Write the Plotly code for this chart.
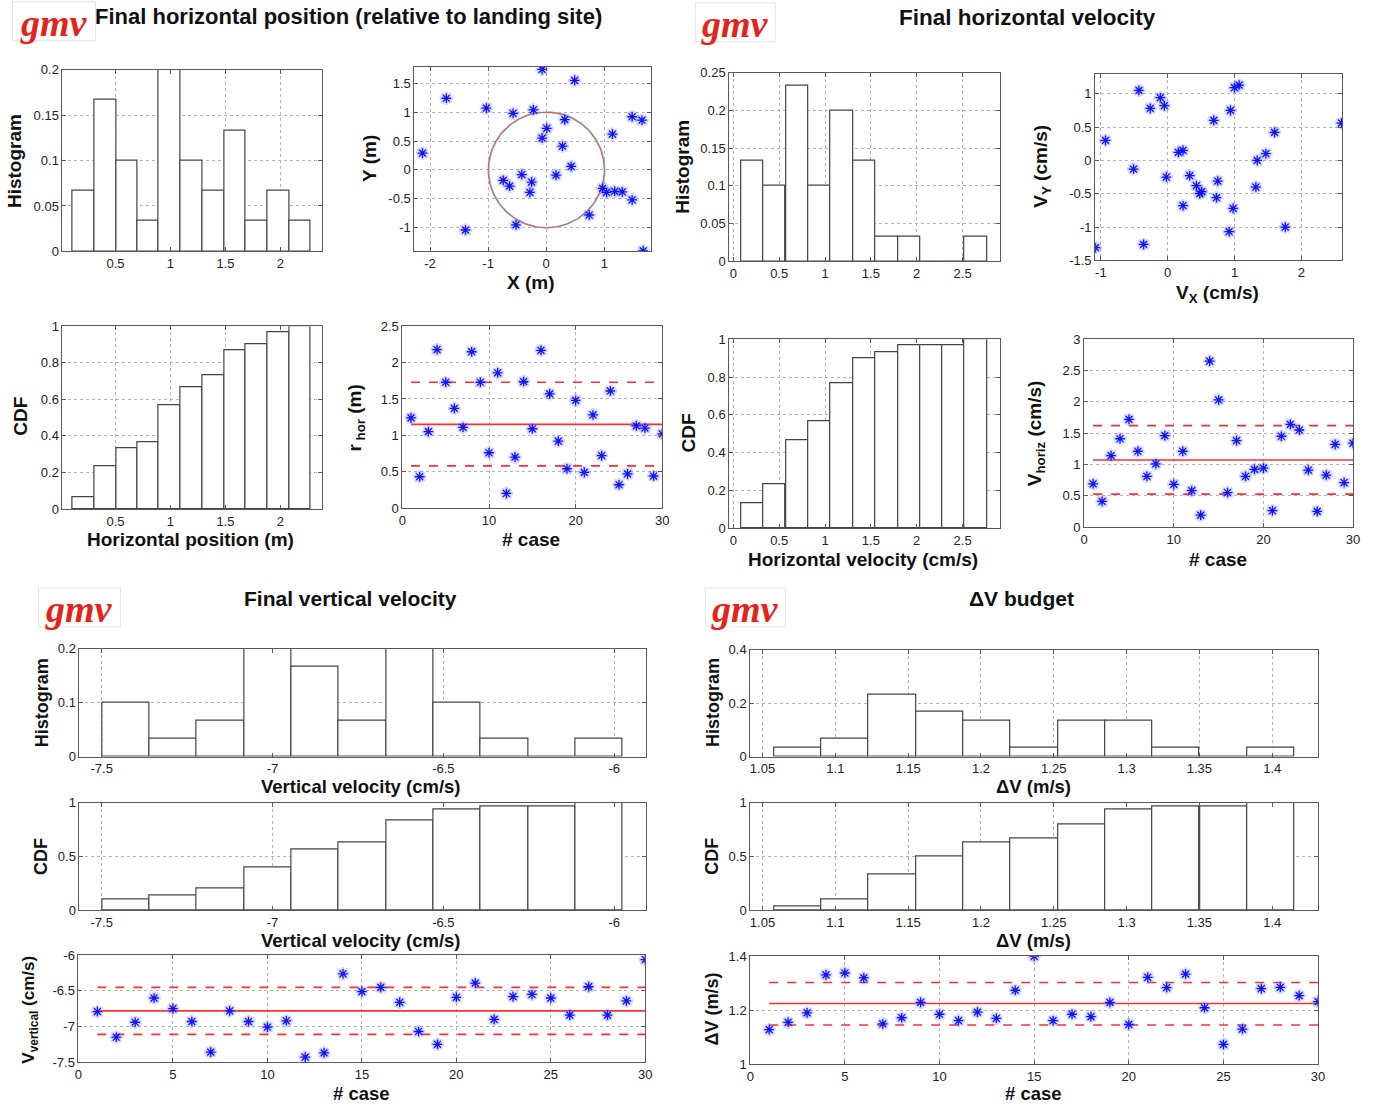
import numpy as np
import plotly.graph_objects as go

W, H = 1373, 1105

# ---------------- data ----------------
cases = list(range(1, 31))

# Final horizontal position
pos_bin_centers = [0.209, 0.407, 0.603, 0.795, 0.991, 1.191, 1.391, 1.586, 1.782, 1.982, 2.177]
pos_hist = [0.0667, 0.1667, 0.1, 0.0333, 0.2, 0.1, 0.0667, 0.1333, 0.0333, 0.0667, 0.0333]
pos_cdf = [0.0667, 0.2333, 0.3333, 0.3667, 0.5667, 0.6667, 0.7333, 0.8667, 0.9, 0.9667, 1.0]

pos_x = [-0.07, 0.49, -1.72, -1.03, -0.57, -0.22, 0.32, 0.01, -0.07, 0.28, -2.13, 0.43, -0.42, 0.17, -0.74,
         -0.63, -0.25, -0.28, -0.52, -1.39, 0.74, 0.97, 1.04, 1.18, 1.31, 1.48, 1.14, 1.48, 1.65, 1.67]
pos_y = [1.74, 1.55, 1.24, 1.07, 0.98, 1.04, 0.87, 0.72, 0.55, 0.41, 0.29, 0.06, -0.08, -0.09, -0.18,
         -0.28, -0.21, -0.39, -0.95, -1.04, -0.78, -0.32, -0.39, -0.37, -0.38, -0.52, 0.62, 0.92, 0.86, -1.40]
landing_radius = 1.0

r_hor = [1.24, 0.43, 1.05, 2.18, 1.73, 1.37, 1.11, 2.15, 1.73, 0.76, 1.86, 0.20, 0.70, 1.74, 1.09,
         2.17, 1.57, 0.92, 0.54, 1.48, 0.49, 1.28, 0.72, 1.61, 0.32, 0.47, 1.13, 1.10, 0.44, 1.02]
r_hor_mean, r_hor_upper, r_hor_lower = 1.15, 1.73, 0.58

# Final horizontal velocity
vel_bin_centers = [0.205, 0.450, 0.694, 0.939, 1.183, 1.428, 1.672, 1.917, 2.161, 2.405, 2.643]
vel_hist = [0.1333, 0.1, 0.2333, 0.1, 0.2, 0.1333, 0.0333, 0.0333, 0.0, 0.0, 0.0333]
vel_cdf = [0.1333, 0.2333, 0.4667, 0.5667, 0.7667, 0.9, 0.9333, 0.9667, 0.9667, 0.9667, 1.0]

vx = [-1.08, -0.93, -0.43, -0.26, -0.11, -0.05, -0.51, -0.36, -0.02, 0.16, 0.23, 0.33, 0.43, 0.48, 0.51,
      0.23, 0.69, 0.75, 0.73, 0.94, 1.00, 1.07, 0.98, 0.92, 1.32, 1.34, 1.47, 1.60, 1.76, 2.60]
vy = [-1.31, 0.30, 1.05, 0.78, 0.94, 0.82, -0.13, -1.26, -0.25, 0.12, 0.15, -0.23, -0.38, -0.50, -0.47,
      -0.68, 0.60, -0.31, -0.56, 0.75, 1.09, 1.13, -0.72, -1.07, -0.40, 0.00, 0.10, 0.42, -1.00, 0.56]

v_horiz = [0.69, 0.41, 1.14, 1.41, 1.72, 1.21, 0.81, 1.01, 1.46, 0.68, 1.21, 0.58, 0.19, 2.65, 2.03,
           0.55, 1.38, 0.81, 0.92, 0.94, 0.26, 1.45, 1.64, 1.55, 0.91, 0.25, 0.83, 1.32, 0.71, 1.34]
v_horiz_mean, v_horiz_upper, v_horiz_lower = 1.07, 1.62, 0.525

# Final vertical velocity
vv_bin_centers = [-7.429, -7.290, -7.152, -7.013, -6.875, -6.737, -6.598, -6.460, -6.321, -6.183, -6.044]
vv_hist = [0.1, 0.0333, 0.0667, 0.2, 0.1667, 0.0667, 0.2, 0.1, 0.0333, 0.0, 0.0333]
vv_cdf = [0.1, 0.1333, 0.2, 0.4, 0.5667, 0.6333, 0.8333, 0.9333, 0.9667, 0.9667, 1.0]

v_vert = [-6.79, -7.15, -6.94, -6.60, -6.75, -6.93, -7.36, -6.78, -6.93, -7.01, -6.92, -7.43, -7.37, -6.26, -6.51,
          -6.45, -6.66, -7.07, -7.25, -6.59, -6.39, -6.90, -6.58, -6.55, -6.60, -6.84, -6.44, -6.84, -6.64, -6.06]
v_vert_mean, v_vert_upper, v_vert_lower = -6.78, -6.45, -7.11

# Delta-V budget
dv_bin_centers = [1.0742, 1.1067, 1.1391, 1.1716, 1.2041, 1.2366, 1.2690, 1.3015, 1.3340, 1.3665, 1.3989]
dv_hist = [0.0333, 0.0667, 0.2333, 0.1667, 0.1333, 0.0333, 0.1333, 0.1333, 0.0333, 0.0, 0.0333]
dv_cdf = [0.0333, 0.1, 0.3333, 0.5, 0.6333, 0.6667, 0.8, 0.9333, 0.9667, 0.9667, 1.0]

dv = [1.128, 1.155, 1.19, 1.331, 1.338, 1.32, 1.149, 1.172, 1.229, 1.185, 1.161, 1.193, 1.170, 1.274, 1.40,
      1.161, 1.185, 1.176, 1.229, 1.147, 1.322, 1.284, 1.334, 1.209, 1.073, 1.13, 1.28, 1.285, 1.254, 1.232]
dv_mean, dv_upper, dv_lower = 1.225, 1.303, 1.145

# ---------------- helpers ----------------
FONT = "Liberation Sans, Arial, sans-serif"
NARROW = "Liberation Sans Narrow, Liberation Sans, Arial, sans-serif"
fig = go.Figure()
layout = {}
annotations = []
shapes = []

# screen-position correction (page is rendered slightly scaled)
AX, BX = 3.5, 0.9923
AY, BY = 6.2, 0.988


def px_x(p):
    return ((p - AX) / BX) / W


def px_y(p):
    return 1 - ((p - AY) / BY) / H


def fmt(v):
    return "%g" % v


def add_axes(n, box, xrange, xticks, yrange, yticks, font=FONT, size=13):
    x0, x1, y0, y1 = box
    common = dict(showgrid=True, gridcolor="#b4b4b4", griddash="dot", gridwidth=1,
                  showline=True, linecolor="#5a5a5a", linewidth=1, mirror="ticks",
                  ticks="inside", ticklen=4, tickcolor="#5a5a5a", zeroline=False,
                  tickfont=dict(family=font, size=size, color="#222"), fixedrange=True)
    layout["xaxis%d" % n] = dict(domain=[px_x(x0), px_x(x1)], range=xrange, anchor="y%d" % n,
                                 tickvals=xticks, ticktext=[fmt(t) for t in xticks], **common)
    layout["yaxis%d" % n] = dict(domain=[px_y(y1), px_y(y0)], range=yrange, anchor="x%d" % n,
                                 tickvals=yticks, ticktext=[fmt(t) for t in yticks], **common)


def add_bars(n, centers, heights):
    width = float(np.mean(np.diff(centers)))
    fig.add_trace(go.Bar(x=centers, y=heights, width=width, xaxis="x%d" % n, yaxis="y%d" % n,
                         marker=dict(color="white", line=dict(color="#444", width=1.2)),
                         showlegend=False, hoverinfo="skip"))


def add_stars(n, x, y):
    fig.add_trace(go.Scatter(x=x, y=y, mode="markers", xaxis="x%d" % n, yaxis="y%d" % n,
                             marker=dict(symbol="asterisk-open", size=11, color="rgba(90,110,255,0.30)",
                                         line=dict(width=3.4)),
                             showlegend=False, hoverinfo="skip"))
    fig.add_trace(go.Scatter(x=x, y=y, mode="markers", xaxis="x%d" % n, yaxis="y%d" % n,
                             marker=dict(symbol="asterisk-open", size=8, color="#1212ff", line=dict(width=1.3)),
                             showlegend=False, hoverinfo="skip"))


def add_stats(n, xs, mean, upper, lower):
    xe = [xs[0], xs[-1]]
    for val, dash in ((mean, "solid"), (upper, "dash"), (lower, "dash")):
        fig.add_trace(go.Scatter(x=xe, y=[val, val], mode="lines", xaxis="x%d" % n, yaxis="y%d" % n,
                                 line=dict(color="#ff3030", width=1.6, dash=dash),
                                 showlegend=False, hoverinfo="skip"))


def label(text, x, y, size=19, angle=0, font=FONT, color="#111", bold=True):
    annotations.append(dict(text=("<b>%s</b>" % text) if bold else text, x=px_x(x), y=px_y(y),
                            xref="paper", yref="paper", showarrow=False, textangle=angle,
                            xanchor="center", yanchor="middle",
                            font=dict(family=font, size=size, color=color)))


# ---------------- panels ----------------
add_axes(1, (62, 322, 69, 251), [0.018, 2.382], [0.5, 1, 1.5, 2], [0, 0.2], [0, 0.05, 0.1, 0.15, 0.2])
add_bars(1, pos_bin_centers, pos_hist)

add_axes(2, (414, 651, 66, 251), [-2.27, 1.81], [-2, -1, 0, 1], [-1.41, 1.786], [-1, -0.5, 0, 0.5, 1, 1.5])
t = np.linspace(0, 2 * np.pi, 200)
fig.add_trace(go.Scatter(x=landing_radius * np.cos(t) + 0.01, y=landing_radius * np.sin(t), mode="lines",
                         xaxis="x2", yaxis="y2", line=dict(color="#40e0e0", width=1.6),
                         showlegend=False, hoverinfo="skip"))
fig.add_trace(go.Scatter(x=landing_radius * np.cos(t), y=landing_radius * np.sin(t), mode="lines",
                         xaxis="x2", yaxis="y2", line=dict(color="#ff5050", width=1.1),
                         showlegend=False, hoverinfo="skip"))
add_stars(2, pos_x, pos_y)

add_axes(3, (729, 1000, 72, 261), [-0.044, 2.91], [0, 0.5, 1, 1.5, 2, 2.5], [0, 0.25],
         [0, 0.05, 0.1, 0.15, 0.2, 0.25])
add_bars(3, vel_bin_centers, vel_hist)

add_axes(4, (1095, 1342, 73, 260), [-1.085, 2.61], [-1, 0, 1, 2], [-1.5, 1.3], [-1.5, -1, -0.5, 0, 0.5, 1])
add_stars(4, vx, vy)

add_axes(5, (62, 322, 326, 509), [0.018, 2.382], [0.5, 1, 1.5, 2], [0, 1], [0, 0.2, 0.4, 0.6, 0.8, 1])
add_bars(5, pos_bin_centers, pos_cdf)

add_axes(6, (402, 662, 326, 508), [0, 30], [0, 10, 20, 30], [0, 2.5], [0, 0.5, 1, 1.5, 2, 2.5])
add_stats(6, cases, r_hor_mean, r_hor_upper, r_hor_lower)
add_stars(6, cases, r_hor)

add_axes(7, (729, 1000, 339, 528), [-0.044, 2.91], [0, 0.5, 1, 1.5, 2, 2.5], [0, 1], [0, 0.2, 0.4, 0.6, 0.8, 1])
add_bars(7, vel_bin_centers, vel_cdf)

add_axes(8, (1084, 1353, 339, 527), [0, 30], [0, 10, 20, 30], [0, 3], [0, 0.5, 1, 1.5, 2, 2.5, 3])
add_stats(8, cases, v_horiz_mean, v_horiz_upper, v_horiz_lower)
add_stars(8, cases, v_horiz)

add_axes(9, (79, 646, 649, 757), [-7.565, -5.906], [-7.5, -7, -6.5, -6], [0, 0.2], [0, 0.1, 0.2], NARROW, 13)
add_bars(9, vv_bin_centers, vv_hist)

add_axes(10, (79, 646, 803, 911), [-7.565, -5.906], [-7.5, -7, -6.5, -6], [0, 1], [0, 0.5, 1], NARROW, 13)
add_bars(10, vv_bin_centers, vv_cdf)

add_axes(11, (78, 645, 956, 1063), [0, 30], [0, 5, 10, 15, 20, 25, 30], [-7.5, -6], [-7.5, -7, -6.5, -6], NARROW, 13)
add_stats(11, cases, v_vert_mean, v_vert_upper, v_vert_lower)
add_stars(11, cases, v_vert)

add_axes(12, (750, 1318, 650, 757), [1.0416, 1.4315], [1.05, 1.1, 1.15, 1.2, 1.25, 1.3, 1.35, 1.4], [0, 0.4],
         [0, 0.2, 0.4], NARROW, 13)
add_bars(12, dv_bin_centers, dv_hist)

add_axes(13, (750, 1318, 803, 911), [1.0416, 1.4315], [1.05, 1.1, 1.15, 1.2, 1.25, 1.3, 1.35, 1.4], [0, 1],
         [0, 0.5, 1], NARROW, 13)
add_bars(13, dv_bin_centers, dv_cdf)

add_axes(14, (750, 1318, 957, 1065), [0, 30], [0, 5, 10, 15, 20, 25, 30], [1, 1.4], [1, 1.2, 1.4], NARROW, 13)
add_stats(14, cases, dv_mean, dv_upper, dv_lower)
add_stars(14, cases, dv)

# ---------------- texts ----------------
label("Final horizontal position (relative to landing site)", 348, 16, 22)
label("Final horizontal velocity", 1027, 17, 22.5)
label("Final vertical velocity", 350, 599, 21, font=NARROW)
label("ΔV budget", 1021, 599, 21, font=NARROW)

for bx0, by0, bx1, by1 in ((12, 1, 95, 40), (695, 2, 775, 41), (38, 588, 120, 627), (705, 588, 785, 627)):
    shapes.append(dict(type="rect", xref="paper", yref="paper", x0=px_x(bx0), x1=px_x(bx1),
                       y0=px_y(by1), y1=px_y(by0), line=dict(color="#e4e4e4", width=1), layer="below"))
    annotations.append(dict(text="<b><i>gmv</i></b>", x=px_x((bx0 + bx1) / 2), y=px_y((by0 + by1) / 2 + 2),
                            xref="paper", yref="paper", showarrow=False, xanchor="center", yanchor="middle",
                            font=dict(family="Liberation Serif, DejaVu Serif, serif", size=38, color="#e3241b")))

label("Histogram", 14, 160, 19, -90)
label("Y (m)", 369, 158, 19, -90)
label("X (m)", 531, 282, 19)
label("Histogram", 682, 166, 19, -90)
label("V<sub>Y</sub> (cm/s)", 1041, 166, 19, -90)
label("V<sub>X</sub> (cm/s)", 1217, 294, 19)
label("CDF", 20, 416, 19, -90)
label("Horizontal position (m)", 190, 540, 19)
label("r<sub> hor</sub> (m)", 356, 418, 19, -90)
label("# case", 531, 540, 19)
label("CDF", 688, 433, 19, -90)
label("Horizontal velocity (cm/s)", 863, 560, 19)
label("V<sub>horiz</sub> (cm/s)", 1036, 433, 19, -90)
label("# case", 1218, 560, 19)

label("Histogram", 41, 703, 18, -90)
label("Vertical velocity (cm/s)", 361, 787, 18.5, font=NARROW)
label("CDF", 41, 857, 18, -90)
label("Vertical velocity (cm/s)", 361, 941, 18.5, font=NARROW)
label("V<sub>vertical</sub> (cm/s)", 30, 1010, 17, -90)
label("# case", 361, 1094, 18.5, font=NARROW)

label("Histogram", 712, 703, 18, -90)
label("ΔV (m/s)", 1033, 787, 18.5, font=NARROW)
label("CDF", 712, 857, 18, -90)
label("ΔV (m/s)", 1033, 941, 18.5, font=NARROW)
label("ΔV (m/s)", 712, 1010, 18, -90)
label("# case", 1033, 1094, 18.5, font=NARROW)

fig.update_layout(width=W, height=H, margin=dict(l=0, r=0, t=0, b=0), paper_bgcolor="white",
                  plot_bgcolor="white", showlegend=False, barmode="overlay", bargap=0,
                  annotations=annotations, shapes=shapes, font=dict(family=FONT), **layout)

fig.write_html("out.html", config={"displayModeBar": False},
               post_script="document.documentElement.style.margin='0';document.body.style.margin='0';"
                           "document.body.style.padding='0';document.documentElement.style.overflow='hidden';")
